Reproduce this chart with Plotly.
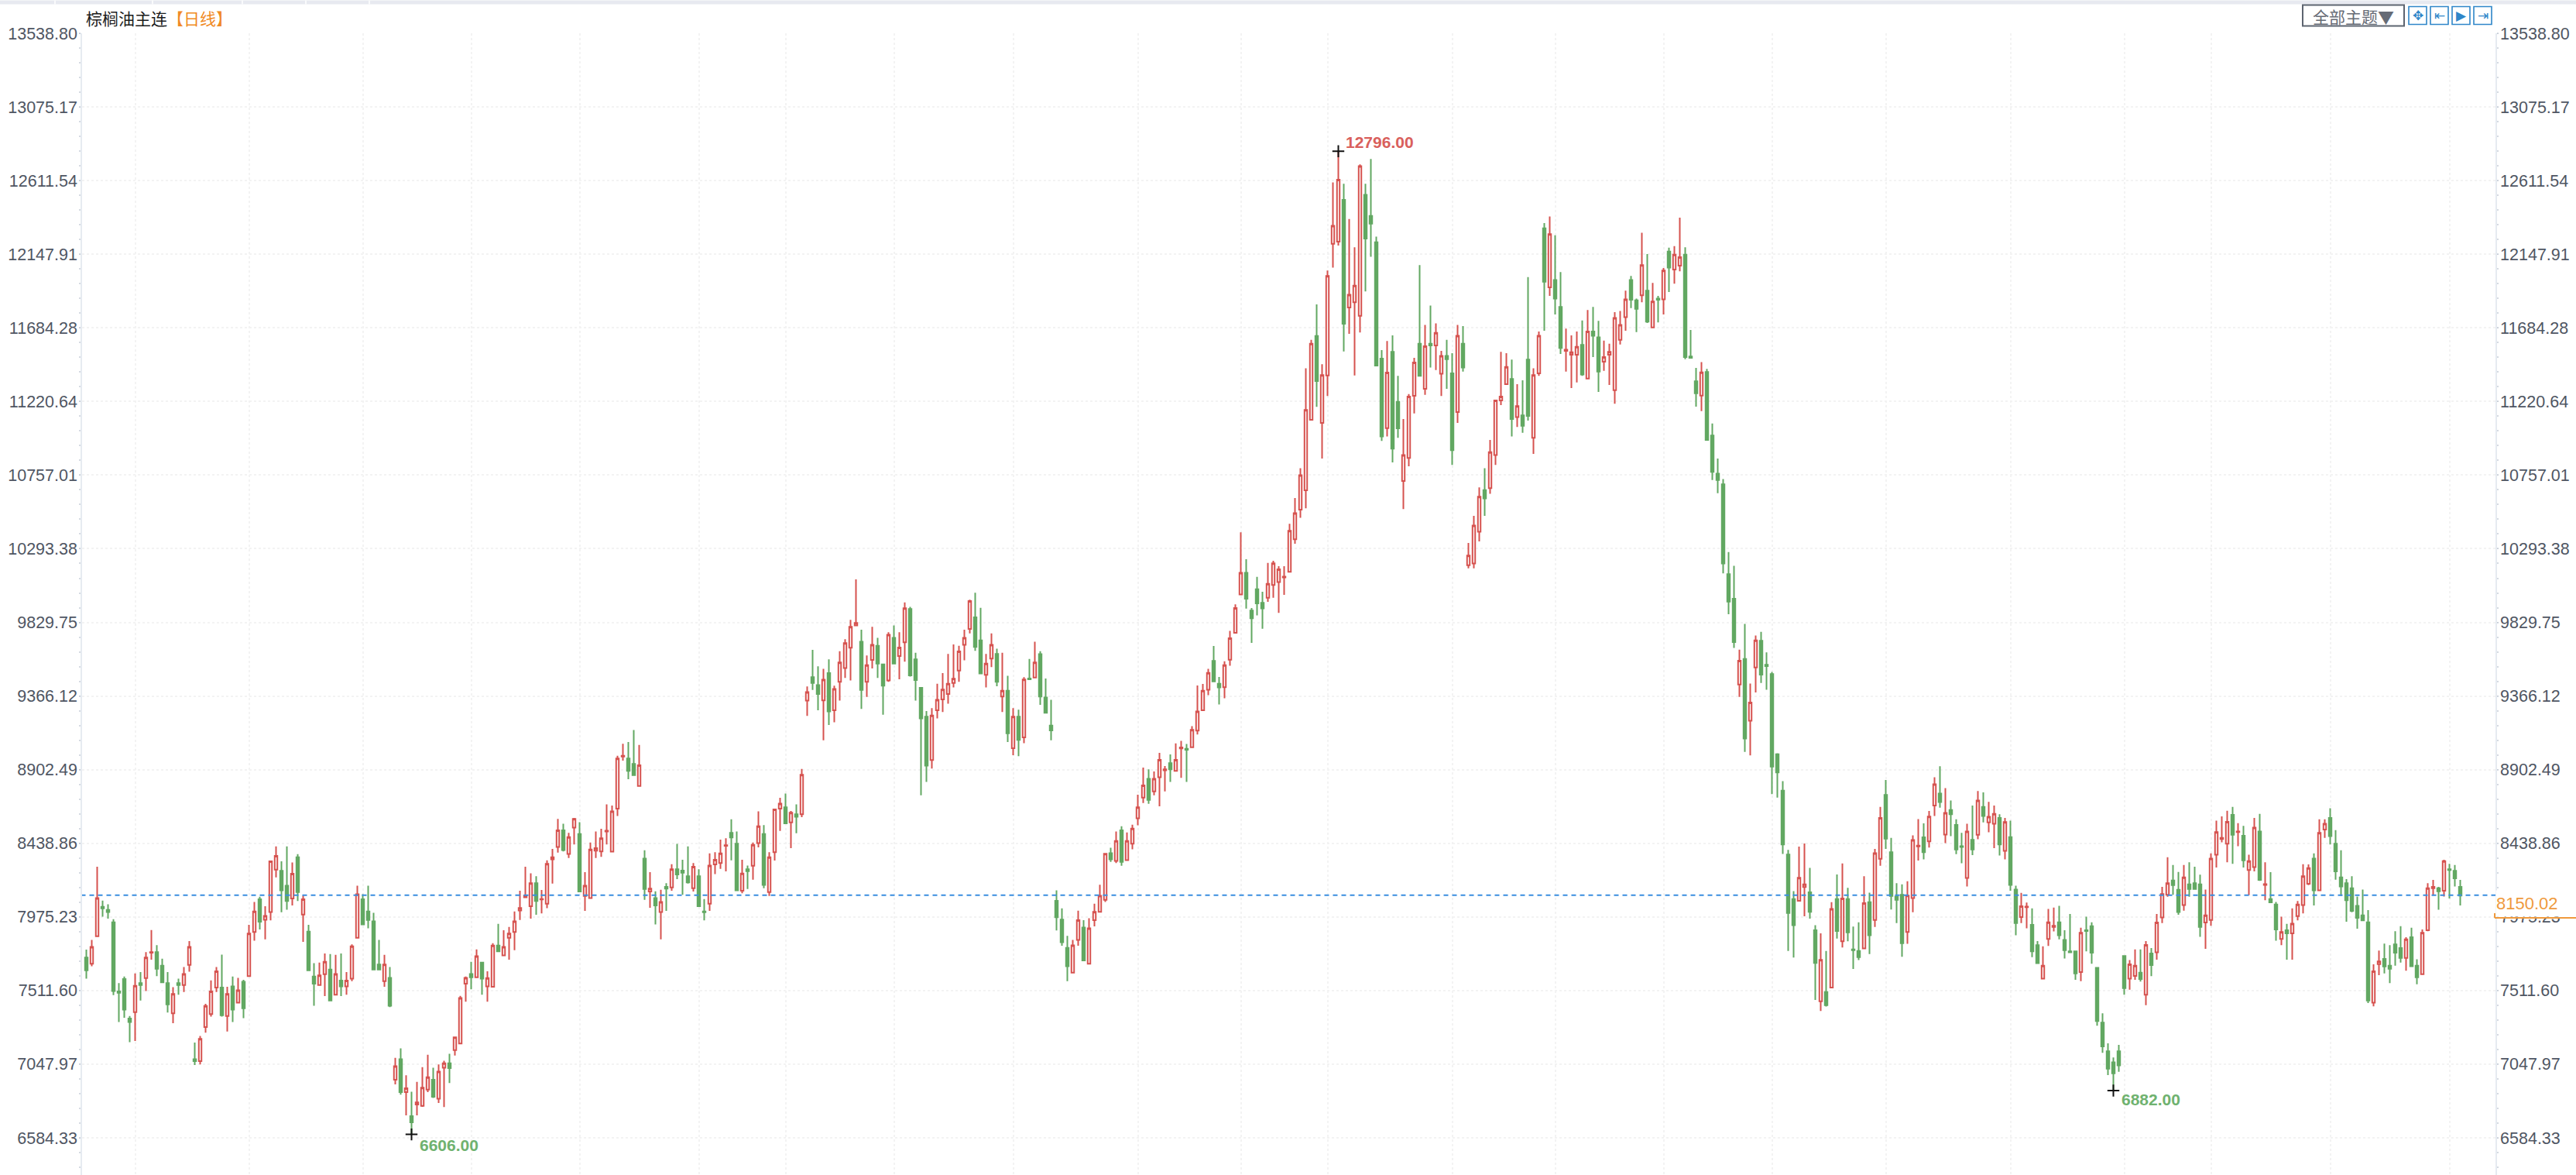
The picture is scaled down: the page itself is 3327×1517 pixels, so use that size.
import plotly.graph_objects as go

HIGH = [
7769,7831,8291,8078,8055,7961,7558,7600,7351,7620,
7628,7754,7893,7798,7712,7628,7533,7587,7660,7823,
7184,7226,7428,7576,7660,7738,7535,7600,7592,7579,
7925,8070,8102,8042,8326,8419,8326,8419,8318,8370,
8110,7925,7684,7688,7745,7741,7737,7745,7628,7803,
8172,8118,8172,8001,7831,7737,7660,7088,7148,6978,
6875,6937,7030,7108,7026,7046,7070,7113,7221,7478,
7600,7693,7771,7693,7633,7810,7932,7891,7912,8010,
8140,8291,8250,8232,8145,8331,8403,8592,8562,8505,
8598,8572,8257,8444,8513,8530,8684,8676,8990,9066,
9077,9152,9058,8395,8257,8137,8146,8188,8307,8435,
8335,8419,8315,8275,8088,8375,8383,8462,8470,8590,
8513,8335,8299,8444,8640,8554,8383,8657,8725,8752,
8643,8684,8907,9427,9657,9553,9537,9597,9431,9648,
9724,9846,10101,9784,9622,9802,9732,9570,9768,9810,
9768,9956,9927,9639,9423,9272,9290,9443,9511,9631,
9691,9683,9784,9973,10016,9922,9631,9760,9664,9639,
9493,9290,9280,9485,9599,9708,9648,9477,9342,8143,
8029,7856,7830,8015,7955,7967,8059,8178,8377,8411,
8513,8546,8507,8556,8745,8915,8905,8891,9008,8925,
8998,9068,9084,9064,9177,9432,9442,9537,9681,9486,
9585,9776,9943,10397,10228,9920,10117,10023,10204,10218,
10184,10184,10451,10613,10801,11430,11609,11832,11455,12045,
12600,12796,12592,12370,12191,12714,12592,12747,12259,11544,
11601,11637,11382,11110,11268,11495,12080,11703,11825,11712,
11539,11609,11525,11703,11695,10330,10500,10680,10801,10979,
11230,11533,11525,11484,11330,11354,12004,11430,11661,12344,
12386,12267,12036,11679,11637,11661,11731,11796,11816,11728,
11604,11585,11783,11791,11918,12011,11869,12283,12149,11967,
11885,12061,12189,12199,12378,12191,11671,11432,11468,11426,
11082,10861,10732,10273,10186,9658,9820,9445,9747,9770,
9641,9518,9006,8830,8398,8138,8418,8438,8284,7923,
7872,7761,8068,8242,8312,8158,7915,7941,8232,8128,
8403,8668,8838,8473,8188,8180,8200,8489,8591,8565,
8643,8855,8924,8786,8708,8590,8505,8562,8676,8768,
8760,8700,8676,8622,8598,8582,8172,8127,8066,8029,
7823,7790,8026,8034,8045,7891,7994,7761,7907,7977,
7941,7660,7368,7180,7090,7170,7733,7704,7771,7771,
7823,7779,7994,8164,8351,8302,8258,8302,8319,8291,
8241,8148,8375,8582,8608,8644,8668,8566,8549,8367,
8598,8624,8319,8257,8070,7977,7932,8029,8075,8307,
8306,8375,8590,8590,8660,8522,8395,8213,8232,8104,
8148,8018,7677,7763,7807,7798,7885,7917,7847,7907,
7709,7896,8188,8208,8164,8335,8310,8302,8208]

BODY_TOP = [
7720,7787,8094,8039,8019,7941,7506,7584,7335,7541,
7558,7720,7754,7754,7668,7558,7490,7558,7616,7787,
7080,7208,7415,7506,7633,7530,7490,7538,7514,7567,
7871,8010,8086,7982,8326,8359,8266,8172,8247,8351,
8086,7883,7600,7607,7693,7644,7616,7574,7574,7790,
8118,8086,8010,7948,7676,7676,7592,7035,7080,6896,
6721,6807,6900,6966,6950,7002,7054,7054,7217,7465,
7592,7616,7728,7688,7590,7795,7795,7787,7871,7948,
8032,8110,8188,8188,8088,8310,8351,8520,8520,8478,
8592,8497,8172,8400,8408,8470,8518,8640,8973,8990,
8973,8939,8930,8343,8153,8094,8070,8164,8275,8275,
8267,8232,8291,8232,8010,8299,8335,8375,8427,8505,
8437,8249,8276,8429,8546,8497,8351,8652,8689,8666,
8632,8622,8871,9391,9485,9435,9469,9511,9410,9578,
9699,9802,9826,9708,9561,9688,9682,9566,9752,9732,
9672,9919,9914,9597,9418,9236,9244,9342,9407,9443,
9475,9647,9732,9964,9862,9716,9570,9688,9631,9399,
9400,9236,9236,9470,9477,9578,9630,9357,9180,8077,
7959,7780,7796,7955,7908,7904,8007,8109,8373,8377,
8453,8521,8453,8531,8666,8803,8845,8845,8964,8905,
8944,8964,9042,9034,9153,9269,9400,9512,9587,9444,
9561,9730,9920,10142,10142,9904,10039,9953,10073,10202,
10164,10118,10407,10517,10756,11167,11585,11633,11387,12011,
12327,12617,12490,11893,11950,12703,12522,12389,12223,11490,
11403,11533,11219,10883,11252,11466,11585,11568,11585,11653,
11508,11508,11398,11634,11585,10250,10440,10621,10663,10902,
11227,11252,11438,11362,11192,11133,11484,11387,11634,12311,
12275,11986,11816,11547,11531,11565,11577,11661,11661,11625,
11500,11533,11747,11703,11864,11986,11858,12080,11918,11850,
11869,12045,12165,12145,12129,12145,11504,11348,11404,11406,
11006,10766,10699,10133,9979,9588,9599,9325,9716,9714,
9563,9504,9000,8770,8368,8088,8222,8180,8130,7892,
7705,7503,8026,8088,8091,8088,7771,7761,8062,8068,
8377,8598,8744,8383,8104,8115,8110,8460,8424,8477,
8607,8811,8752,8630,8648,8555,8421,8513,8461,8708,
8668,8606,8624,8598,8573,8478,8148,8042,8040,7925,
7798,7668,7941,7920,7941,7831,7758,7758,7876,7891,
7917,7655,7310,7130,7060,7130,7729,7677,7668,7625,
7799,7745,7940,8119,8188,8205,8146,8224,8180,8188,
8180,7985,8343,8510,8473,8574,8618,8513,8486,8327,
8538,8513,8182,8088,8054,7880,7891,7933,8054,8232,
8283,8343,8505,8562,8598,8436,8224,8188,8156,8045,
7985,7941,7633,7695,7711,7668,7803,7779,7834,7847,
7668,7876,8156,8164,8156,8327,8275,8266,8164]

BODY_BOTTOM = [
7639,7681,7854,8029,8006,7509,7498,7392,7314,7376,
7546,7590,7750,7649,7563,7425,7368,7546,7546,7673,
7067,7067,7282,7363,7530,7356,7351,7392,7436,7400,
7603,7880,7945,7957,8006,8273,8143,8075,8091,8131,
7990,7639,7555,7546,7615,7449,7486,7538,7538,7587,
7844,7928,7956,7644,7644,7571,7416,6950,6872,6872,
6682,6794,6786,6888,6843,6831,7026,7023,7137,7178,
7555,7595,7595,7587,7538,7535,7758,7733,7844,7880,
8016,8099,8042,8075,8085,8058,8338,8416,8396,8372,
8538,8135,8107,8094,8392,8388,8513,8387,8657,8985,
8895,8868,8800,8151,8135,8047,8006,8153,8161,8242,
8254,8192,8156,8042,8005,8058,8306,8314,8423,8476,
8143,8140,8263,8297,8440,8177,8132,8383,8657,8565,
8570,8606,8622,9337,9448,9379,9339,9269,9277,9456,
9542,9670,9810,9404,9456,9594,9570,9431,9464,9570,
9618,9704,9496,9467,9225,8928,8963,9277,9345,9379,
9448,9526,9688,9789,9675,9508,9500,9602,9456,9363,
9131,9038,9090,9106,9472,9483,9363,9261,9150,7973,
7816,7665,7625,7830,7701,7681,7955,8007,8083,8338,
8328,8322,8333,8437,8596,8726,8712,8765,8855,8899,
8905,8895,9036,9028,9044,9149,9277,9406,9458,9420,
9422,9595,9764,10005,9979,9856,9949,9918,9985,10065,
10083,10113,10148,10353,10540,10662,11105,11349,11086,11385,
12214,12227,11710,11812,11845,11760,12246,12340,11447,11000,
11053,10923,11052,10720,10865,11256,11382,11300,11573,11573,
11395,11487,10914,11154,11435,10190,10200,10400,10610,10675,
10883,11227,11330,11110,11122,11068,11130,10992,11398,11975,
11939,11869,11557,11539,11515,11515,11390,11365,11634,11409,
11471,11515,11292,11609,11752,11861,11804,11889,11723,11687,
11861,11864,12064,12051,12076,11500,11495,11272,11258,10978,
10777,10726,10200,9960,9705,9439,9098,9210,9546,9501,
9554,8922,8885,8432,8000,7923,8077,8163,8007,7685,
7444,7419,7531,7886,7822,7878,7766,7722,7777,7860,
7956,8341,8468,8107,8083,7810,7880,8094,8419,8383,
8451,8676,8699,8494,8622,8400,8416,8221,8400,8492,
8611,8570,8562,8432,8391,8177,7936,7974,8036,7758,
7684,7587,7837,7912,7860,7766,7753,7620,7628,7886,
7750,7320,7160,7020,6990,7040,7527,7587,7604,7584,
7486,7672,7753,7972,8115,8175,8006,8050,8151,8151,
7912,7940,7956,8367,8466,8436,8492,8510,8332,8270,
8289,8208,8177,8067,7896,7836,7872,7872,7980,8050,
8184,8143,8143,8526,8484,8262,8167,8080,8013,7969,
7953,7449,7436,7678,7664,7649,7750,7717,7717,7665,
7595,7615,7891,8156,8136,8140,8270,8218,8110]

LOW = [
7587,7665,7854,7977,7964,7483,7314,7340,7187,7194,
7449,7509,7706,7603,7559,7373,7306,7485,7502,7631,
7043,7047,7246,7348,7502,7348,7254,7314,7433,7338,
7603,7826,7896,7834,7953,8224,8005,8021,8047,8075,
7818,7639,7416,7541,7477,7444,7485,7477,7485,7571,
7844,7923,7904,7641,7641,7535,7408,6921,6856,6726,
6606,6726,6779,6872,6836,6804,6778,6929,7103,7173,
7441,7519,7595,7485,7441,7530,7758,7730,7706,7766,
7956,8096,7964,7989,7997,8031,8185,8380,8388,8346,
8432,8132,8013,8091,8346,8354,8432,8383,8611,8960,
8842,8866,8800,8083,8033,7928,7834,8013,8140,8213,
8115,8185,8135,8039,7953,8013,8245,8278,8262,8332,
8140,8124,8151,8210,8413,8156,8107,8330,8517,8559,
8408,8502,8603,9241,9404,9277,9087,9184,9201,9337,
9480,9464,9805,9285,9361,9540,9480,9249,9456,9566,
9472,9582,9488,9337,8741,8825,8910,9225,9266,9318,
9420,9456,9591,9761,9651,9504,9420,9548,9428,9266,
9077,8993,8988,9069,9467,9480,9310,9257,9087,7890,
7794,7571,7621,7794,7697,7677,7916,8003,8069,8322,
8314,8298,8332,8401,8552,8692,8688,8741,8672,8765,
8825,8895,8851,8825,9040,9124,9277,9372,9458,9313,
9352,9557,9764,10003,9916,9701,9874,9790,9959,9985,
9890,10003,10148,10325,10488,10548,11102,11187,10862,11255,
12064,12202,11536,11647,11385,11655,11913,12132,11443,10972,
11000,10837,10992,10543,10813,11146,11378,11263,11434,11419,
11255,11300,10821,11086,11409,10170,10170,10340,10500,10639,
10821,11198,11325,11000,11060,11024,11100,10891,11382,11666,
11885,11768,11520,11409,11305,11341,11382,11361,11500,11281,
11414,11325,11206,11580,11666,11809,11658,11845,11715,11682,
11718,11768,11910,11962,12040,11487,11495,11188,11160,10976,
10726,10643,10139,9881,9669,9361,9014,8992,9389,9448,
9406,8748,8726,8372,7761,7719,8074,7979,7965,7453,
7383,7411,7528,7839,7783,7822,7647,7704,7774,7741,
7912,8297,8404,8022,7936,7724,7806,8005,8330,8338,
8412,8611,8663,8440,8484,8370,8313,8167,8364,8465,
8570,8508,8408,8362,8338,8140,7860,7936,7904,7722,
7680,7587,7793,7884,7834,7714,7750,7579,7571,7758,
7680,7290,7120,6980,6882,7000,7486,7517,7579,7568,
7420,7603,7706,7937,8102,8115,7989,8015,8102,8148,
7850,7774,7920,8286,8445,8319,8310,8421,8286,8112,
8262,8202,8080,8063,7826,7798,7706,7706,7953,7998,
8176,8047,8140,8473,8432,8210,8107,7945,8005,7901,
7950,7433,7412,7608,7620,7558,7668,7688,7636,7660,
7551,7612,7885,8110,8021,8104,8091,8167,8047]

DIRECTION = (
"GRRGGGGGGR" "GRRGGGRGRR" "GRRRRGRGRG" "RRGRRRGGRG" "RGGRRGRGRR"
"RGGGGRGRGR" "GRRRGRRGRR" "RGRGRRGRRR" "RRRGRRRRGR" "RGRRRRRRRR"
"GGRGRGRGRG" "GGRGGRRRRG" "GRGRRGRRRG" "RGRRGGRGRR" "RRRGRRGGRG"
"RRGGGGRRRR" "RRRRGGRRGR" "GRGRGRGGGG" "GGRRGRRRRG" "RGRRRRGRRR"
"GRRGRRRRGG" "RRRRGGGGRR" "RRRRRRRGRR" "RRGRRRGGGG" "RGGRRRGRGR"
"RGGRGRRRGR" "RRRGRGGRRG" "RGGRRRGRGG" "RRRRRGGRGR" "GRGRRGGGRG"
"GGGGGRGRRG" "GGGGGGRRGG" "RGRGRGGGRG" "RRGGGGRRRG" "RRGRGGGRGR"
"GRRGRGGRRG" "GRRRGGGGRG" "GGGGGGGRRG" "RGRRRGGRGG" "GRRRRRGRGR"
"RGRGGRGRRR" "RGRRGGGGGG" "GGRRGGGGRG" "GRRRGRGGG")

OPEN = [b if d == "R" else t for t, b, d in zip(BODY_TOP, BODY_BOTTOM, DIRECTION)]
CLOSE = [t if d == "R" else b for t, b, d in zip(BODY_TOP, BODY_BOTTOM, DIRECTION)]
INDEX = list(range(len(HIGH)))

TICK_LABELS = ["13538.80", "13075.17", "12611.54", "12147.91", "11684.28", "11220.64",
               "10757.01", "10293.38", "9829.75", "9366.12", "8902.49", "8438.86",
               "7975.23", "7511.60", "7047.97", "6584.33"]
TICK_VALUES = [float(t) for t in TICK_LABELS]
MONTH_STARTS = [9, 30, 51, 71, 91, 113, 129, 149, 171, 194, 213, 229, 252, 271, 291,
                311, 332, 355, 376, 392, 414, 436]

PRICE_LINE = 8112
PRICE_LABEL = "8150.02"
EXTREMES_X = [231, 60, 374]
EXTREMES_Y = [12796, 6606, 6882]
EXTREME_TEXT = ["12796.00", "6606.00", "6882.00"]

W, H = 3327, 1517
L, R, T = 106, 104, 42.5
PLOT_W, PLOT_H = W - L - R, H - T


def px(x):
    return (x - L) / PLOT_W


def py(y):
    return (H - y) / PLOT_H


RED, GREEN = "#d6524f", "#62a862"
SANS = "Liberation Sans, Arial, sans-serif"
CJK = "Noto Sans CJK SC, sans-serif"
AXIS_TEXT = "#4f5663"
BLUE = "#2f86c9"
GRID = "#f3f3f3"

fig = go.Figure()
fig.add_trace(go.Candlestick(
    x=INDEX, open=OPEN, high=HIGH, low=LOW, close=CLOSE,
    increasing=dict(line=dict(color=RED, width=2), fillcolor="#ffffff"),
    decreasing=dict(line=dict(color=GREEN, width=2), fillcolor=GREEN),
    whiskerwidth=0, hoverinfo="skip", yaxis="y"))
fig.add_trace(go.Scatter(
    x=[-1, 446], y=[PRICE_LINE, PRICE_LINE], mode="lines", yaxis="y2", hoverinfo="skip",
    line=dict(color="#3a8ee0", width=2.2, dash="6px,5px")))
fig.add_trace(go.Scatter(
    x=EXTREMES_X, y=EXTREMES_Y, mode="markers", yaxis="y2", hoverinfo="skip",
    marker=dict(symbol="cross-thin", size=11, line=dict(color="#111111", width=2))))

Y_RANGE = [13538.80 - (H - T) * 463.63 / 95.1, 13538.80]
axis_common = dict(
    range=Y_RANGE, tickmode="array", tickvals=TICK_VALUES, ticktext=TICK_LABELS,
    tickfont=dict(family=SANS, size=21.5, color=AXIS_TEXT),
    ticks="outside", ticklen=2, tickcolor="#c5ccd6", tickwidth=1, ticklabelstandoff=-2,
    showline=True, linecolor="#e6ebf1", linewidth=1.5, zeroline=False,
    minor=dict(tick0=6584.33, dtick=92.726, ticks="outside", ticklen=2,
               tickcolor="#d5dae2", tickwidth=1.5, showgrid=False),
)

shapes = [
    dict(type="rect", xref="paper", yref="paper", x0=px(0), x1=px(W), y0=py(5), y1=py(0),
         fillcolor="#e7e9f0", line=dict(width=0)),
    dict(type="rect", xref="paper", yref="paper", x0=px(2974), x1=px(3105), y0=py(33), y1=py(6),
         fillcolor="#ffffff", line=dict(color="#5d6470", width=2)),
    dict(type="line", xref="paper", yref="paper", x0=px(3222), x1=px(W), y0=py(1185), y1=py(1185),
         line=dict(color="#ef9a3d", width=2)),
    dict(type="line", xref="paper", yref="paper", x0=px(3222), x1=px(3222), y0=py(1179), y1=py(1185),
         line=dict(color="#ef9a3d", width=2)),
]
for x in (71, 197, 313, 395, 477):
    shapes.append(dict(type="line", xref="paper", yref="paper", x0=px(x), x1=px(x), y0=py(5), y1=py(0),
                       line=dict(color="#ffffff", width=1.5)))
ICON_BOXES = [(3111, 3134), (3139, 3162), (3167, 3190), (3195, 3218)]
ICON_GLYPHS = ["✥", "⇤", "▶", "⇥"]
for a, b in ICON_BOXES:
    shapes.append(dict(type="rect", xref="paper", yref="paper", x0=px(a), x1=px(b), y0=py(31), y1=py(8),
                       fillcolor="#ffffff", line=dict(color=BLUE, width=1.6)))

annotations = [
    dict(xref="paper", yref="paper", x=px(109), y=py(22), xanchor="left", yanchor="middle", showarrow=False,
         text="棕榈油主连", font=dict(family=CJK, size=21, color="#1c1c1c")),
    dict(xref="paper", yref="paper", x=px(214), y=py(22), xanchor="left", yanchor="middle", showarrow=False,
         text="【日线】", font=dict(family=CJK, size=21, color="#f08a24")),
    dict(xref="paper", yref="paper", x=px(3039), y=py(20), xanchor="center", yanchor="middle", showarrow=False,
         text="全部主题▼", font=dict(family=CJK, size=21, color="#666b75")),
    dict(xref="paper", yref="paper", x=px(3222.5), y=py(1184), xanchor="left", yanchor="bottom", showarrow=False,
         text=PRICE_LABEL, font=dict(family=SANS, size=22, color="#ef9a3d"), align="left",
         bgcolor="#ffffff", width=104, height=33, borderpad=0),
    dict(x=EXTREMES_X[0], y=EXTREMES_Y[0], yref="y2", xanchor="left", yanchor="middle", showarrow=False,
         xshift=7, yshift=12, text=f"<b>{EXTREME_TEXT[0]}</b>", font=dict(family=SANS, size=21, color="#d9605c")),
    dict(x=EXTREMES_X[1], y=EXTREMES_Y[1], yref="y2", xanchor="left", yanchor="middle", showarrow=False,
         xshift=8, yshift=-14, text=f"<b>{EXTREME_TEXT[1]}</b>", font=dict(family=SANS, size=21, color="#6fb26f")),
    dict(x=EXTREMES_X[2], y=EXTREMES_Y[2], yref="y2", xanchor="left", yanchor="middle", showarrow=False,
         xshift=8, yshift=-12, text=f"<b>{EXTREME_TEXT[2]}</b>", font=dict(family=SANS, size=21, color="#6fb26f")),
]
for (a, b), g in zip(ICON_BOXES, ICON_GLYPHS):
    annotations.append(dict(xref="paper", yref="paper", x=px((a + b) / 2), y=py(19.5), xanchor="center",
                            yanchor="middle", showarrow=False, text=g,
                            font=dict(family="DejaVu Sans", size=17, color=BLUE)))

fig.update_layout(
    width=W, height=H, autosize=False,
    margin=dict(l=L, r=R, t=T, b=0, autoexpand=False),
    paper_bgcolor="#ffffff", plot_bgcolor="#ffffff",
    showlegend=False, hovermode=False,
    xaxis=dict(range=[-5.5 / 7, -5.5 / 7 + PLOT_W / 7], rangeslider=dict(visible=False),
               tickmode="array", tickvals=MONTH_STARTS, showticklabels=False, ticks="",
               showgrid=True, gridcolor=GRID, griddash="dot", gridwidth=1.5,
               zeroline=False, showline=False),
    yaxis=dict(side="left", showgrid=True, gridcolor=GRID, griddash="dot", gridwidth=1.5,
               **axis_common),
    yaxis2=dict(side="right", overlaying="y", anchor="x", showgrid=False, **axis_common),
    shapes=shapes, annotations=annotations,
)

fig.write_html("out.html", config=dict(displayModeBar=False),
               post_script="document.body.style.margin='0';document.body.style.overflow='hidden';")
